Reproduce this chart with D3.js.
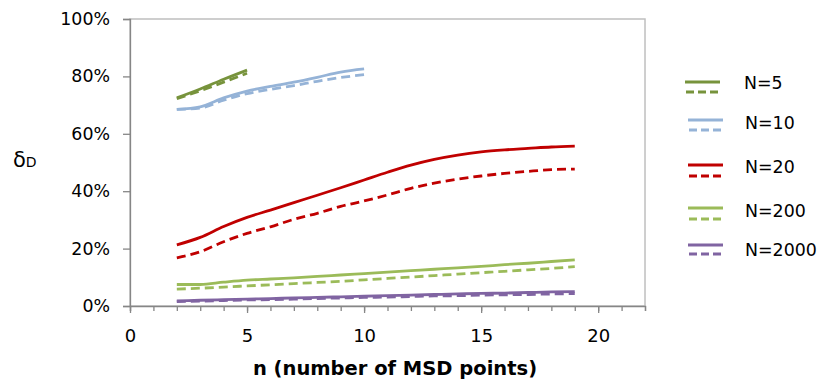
<!DOCTYPE html>
<html><head><meta charset="utf-8">
<script src="https://cdn.jsdelivr.net/npm/d3@7"></script>
<style>body{margin:0;background:#fff}svg{display:block}text{font-family:"DejaVu Sans",sans-serif}</style>
</head><body><svg id="c" width="819" height="385"></svg>
<script>
const seriesNames = ["N=5","N=10","N=20","N=200","N=2000"];
const seriesColors = ["#77933C","#95B3D7","#C00000","#9BBB59","#8064A2"];
const nN5 = [2,3,4,5];
const nN10 = [2,3,4,5,6,7,8,9,10];
const nLong = [2,3,4,5,6,7,8,9,10,11,12,13,14,15,16,17,18,19];
const solidN5 = [72.5,75.6,79.0,82.2];
const dashN5 = [72.2,75.0,78.0,81.1];
const solidN10 = [68.5,69.4,72.5,74.9,76.5,78.0,79.7,81.5,82.6];
const dashN10 = [68.5,69.0,71.7,74.0,75.5,76.8,78.3,79.6,80.6];
const solidN20 = [21.3,23.9,27.7,30.9,33.4,36.0,38.6,41.2,43.9,46.6,49.1,51.1,52.6,53.7,54.4,54.9,55.4,55.7];
const dashN20 = [16.8,18.9,22.4,25.3,27.6,30.2,32.3,34.7,36.6,38.7,41.0,42.8,44.2,45.3,46.2,46.9,47.5,47.7];
const solidN200 = [7.5,7.5,8.3,9.0,9.4,9.8,10.3,10.8,11.3,11.8,12.3,12.8,13.3,13.8,14.4,14.9,15.5,16.1];
const dashN200 = [5.9,6.2,6.6,7.0,7.4,7.8,8.2,8.6,9.1,9.6,10.1,10.6,11.1,11.6,12.1,12.6,13.1,13.7];
const solidN2000 = [1.8,2.0,2.2,2.4,2.6,2.8,3.0,3.2,3.4,3.6,3.8,4.0,4.2,4.4,4.5,4.7,4.9,5.0];
const dashN2000 = [1.5,1.7,1.9,2.1,2.2,2.4,2.6,2.8,3.0,3.1,3.3,3.5,3.6,3.8,3.9,4.0,4.2,4.3];
const yTicks = [0,20,40,60,80,100];
const xTickLabels = [0,5,10,15,20];
const xTitle = "n (number of MSD points)";

const groups = [
  {n:nN5, s:solidN5, d:dashN5},
  {n:nN10, s:solidN10, d:dashN10},
  {n:nLong, s:solidN20, d:dashN20},
  {n:nLong, s:solidN200, d:dashN200},
  {n:nLong, s:solidN2000, d:dashN2000}
];

const svg = d3.select("#c");
const L=130, R=645, T=19, B=306;
const x = d3.scaleLinear().domain([0,22]).range([L,R]);
const y = d3.scaleLinear().domain([0,100]).range([B,T]);
const FONT = "'DejaVu Sans',sans-serif";

// plot border
svg.append("rect").attr("x",L).attr("y",T).attr("width",R-L).attr("height",B-T)
  .attr("fill","none").attr("stroke","#BFBFBF").attr("stroke-width",1.5);

// y axis
const ya = svg.append("g").attr("transform",`translate(${L},0)`)
  .call(d3.axisLeft(y).tickValues(yTicks).tickSize(7).tickPadding(13).tickFormat(d=>d+"%"));
ya.select(".domain").attr("stroke","#868686").attr("stroke-width",1.3);
ya.selectAll(".tick line").attr("stroke","#868686").attr("stroke-width",1.3);
ya.selectAll("text").attr("font-size",17.4).attr("fill","#000").attr("font-family",FONT);

// x axis minor ticks
const xa = svg.append("g").attr("transform",`translate(0,${B})`)
  .call(d3.axisBottom(x).ticks(22).tickSize(5).tickFormat(""));
xa.select(".domain").attr("stroke","#868686").attr("stroke-width",1.3);
xa.selectAll(".tick line").attr("stroke","#868686").attr("stroke-width",1.3);
const xa2 = svg.append("g").attr("transform",`translate(0,${B})`)
  .call(d3.axisBottom(x).tickValues(xTickLabels).tickSize(7).tickPadding(16).tickFormat(d3.format("d")));
xa2.select(".domain").remove();
xa2.selectAll(".tick line").attr("stroke","#868686").attr("stroke-width",1.3);
xa2.selectAll("text").attr("font-size",18).attr("fill","#000").attr("font-family",FONT);

// titles
svg.append("text").attr("x",395).attr("y",375).attr("text-anchor","middle")
  .attr("font-size",19.5).attr("font-weight","bold").attr("font-family",FONT).text(xTitle);
const yt = svg.append("text").attr("x",13).attr("y",167).attr("font-family",FONT);
yt.append("tspan").attr("font-size",21).text("δ");
yt.append("tspan").attr("font-size",14).text("D");

// lines
const line = d3.line().curve(d3.curveMonotoneX);
groups.forEach((g,i)=>{
  const c = seriesColors[i];
  [["s",null],["d","9,5"]].forEach(([k,dash])=>{
    const pts = g.n.map((v,j)=>[x(v),y(g[k][j])]);
    const p = svg.append("path").attr("d",line(pts)).attr("fill","none")
      .attr("stroke",c).attr("stroke-width",2.8).attr("stroke-linecap","butt");
    if(dash) p.attr("stroke-dasharray",dash);
  });
});

// legend
const legY = [[82,92,83],[120,130,123],[165,176,167],[208,219,211],[245,254,250]];
seriesNames.forEach((nm,i)=>{
  const [ys,yd,yt2] = legY[i];
  const x0 = i===0?685:688, x1 = x0+35;
  svg.append("line").attr("x1",x0).attr("x2",x1).attr("y1",ys).attr("y2",ys)
    .attr("stroke",seriesColors[i]).attr("stroke-width",2.8);
  svg.append("line").attr("x1",x0+1).attr("x2",x1).attr("y1",yd).attr("y2",yd)
    .attr("stroke",seriesColors[i]).attr("stroke-width",2.8).attr("stroke-dasharray","8,4");
  svg.append("text").attr("x",i===0?744:745).attr("y",yt2).attr("dy","0.36em")
    .attr("font-size",17.4).attr("fill","#000").attr("font-family",FONT).text(nm);
});
</script></body></html>
